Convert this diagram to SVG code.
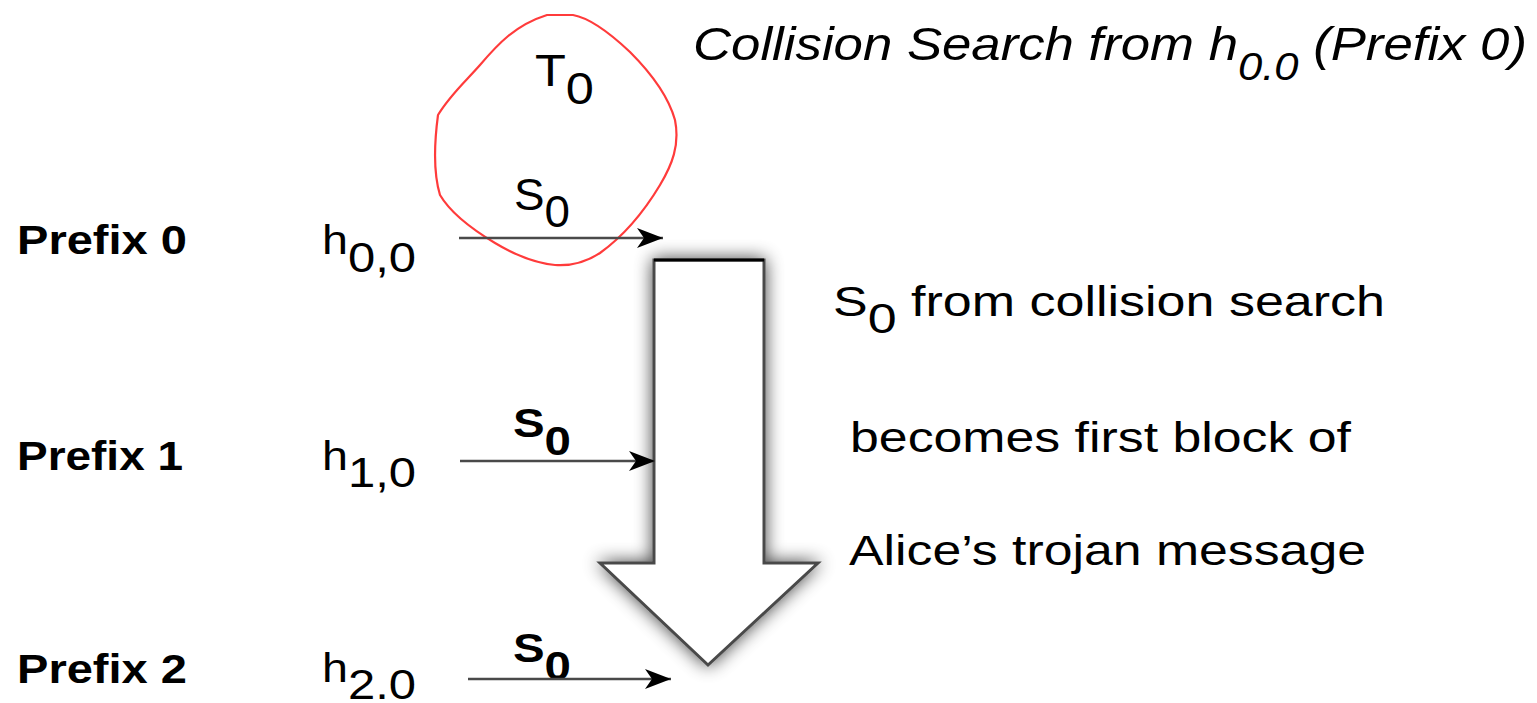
<svg xmlns="http://www.w3.org/2000/svg" width="1537" height="703" viewBox="0 0 1537 703">
<style>
text{font-family:"Liberation Sans",Arial,sans-serif;fill:#000}
.b{font-weight:bold}
.conn{stroke:#4a4a4a;stroke-width:2.5;fill:none}
</style>
<defs>
<marker id="ah" markerWidth="28" markerHeight="22" refX="26" refY="11" orient="auto" markerUnits="userSpaceOnUse">
<path d="M0,1 L26,11 L0,21 L7,11 Z" fill="#000"/>
</marker>
<filter id="sh" x="-30%" y="-10%" width="160%" height="130%">
<feGaussianBlur in="SourceAlpha" stdDeviation="9"/>
<feComponentTransfer><feFuncA type="linear" slope="0.75"/></feComponentTransfer>
<feMerge><feMergeNode/><feMergeNode in="SourceGraphic"/></feMerge>
</filter>
</defs>
<rect width="1537" height="703" fill="#fff"/>

<g id="title">
<text x="693" y="60" font-style="italic" font-size="46" textLength="834" lengthAdjust="spacingAndGlyphs">Collision Search from h<tspan font-size="38" dy="20">0.0</tspan><tspan dy="-20"> (Prefix 0)</tspan></text>
</g>

<g id="collision-circle">
<path d="M547,15 L573,15 C590,18 612,35 630,52 C648,70 668,95 675,120 C680,145 672,165 660,185 C645,210 625,235 600,253 C585,263 570,266 555,265 C535,263 515,255 495,243 C470,228 450,212 440,195 C434,175 434,145 438,115 C450,95 465,82 480,65 C497,45 515,25 547,15 Z" fill="none" stroke="#ff3b3b" stroke-width="2.2"/>
<text x="535" y="86" font-size="44" textLength="59" lengthAdjust="spacingAndGlyphs">T<tspan dy="18">0</tspan></text>
<text x="514" y="210" font-size="44" textLength="56" lengthAdjust="spacingAndGlyphs">S<tspan dy="17">0</tspan></text>
</g>

<g id="big-arrow">
<path d="M654,260 L764,260 L764,563 L818,563 L708,665 L600,563 L654,563 Z" fill="#fff" stroke="#4a4a4a" stroke-width="3" stroke-linejoin="miter" filter="url(#sh)"/>
<line x1="654" y1="260" x2="764" y2="260" stroke="#000" stroke-width="3"/>
</g>

<g id="prefix0">
<text class="b" x="17" y="254" font-size="40" textLength="170" lengthAdjust="spacingAndGlyphs">Prefix 0</text>
<text x="322" y="254" font-size="40" textLength="94" lengthAdjust="spacingAndGlyphs">h<tspan font-size="42" dy="18">0,0</tspan></text>
</g>

<g id="prefix1">
<text class="b" x="17" y="470" font-size="40" textLength="166" lengthAdjust="spacingAndGlyphs">Prefix 1</text>
<text x="322" y="470" font-size="40" textLength="94" lengthAdjust="spacingAndGlyphs">h<tspan font-size="42" dy="17">1,0</tspan></text>
<text class="b" x="513" y="437" font-size="40" textLength="58" lengthAdjust="spacingAndGlyphs">S<tspan dy="18">0</tspan></text>
</g>

<g id="prefix2">
<text class="b" x="17" y="683" font-size="40" textLength="170" lengthAdjust="spacingAndGlyphs">Prefix 2</text>
<text x="322" y="682" font-size="40" textLength="94" lengthAdjust="spacingAndGlyphs">h<tspan font-size="42" dy="17">2.0</tspan></text>
<text class="b" x="513" y="662" font-size="40" textLength="58" lengthAdjust="spacingAndGlyphs">S<tspan dy="18">0</tspan></text>
</g>

<g id="explanation">
<text x="833" y="316" font-size="43" textLength="552" lengthAdjust="spacingAndGlyphs">S<tspan dy="17">0</tspan><tspan dy="-17"> from collision search</tspan></text>
<text x="850" y="452" font-size="43" textLength="501" lengthAdjust="spacingAndGlyphs">becomes first block of</text>
<text x="849" y="565" font-size="43" textLength="517" lengthAdjust="spacingAndGlyphs">Alice’s trojan message</text>
</g>

<g id="connectors">
<line class="conn" x1="459" y1="238" x2="663" y2="238" marker-end="url(#ah)" stroke="#777"/>
<line class="conn" x1="460" y1="461" x2="655" y2="461" marker-end="url(#ah)"/>
<line class="conn" x1="468" y1="679" x2="671" y2="679" marker-end="url(#ah)"/>
</g>
</svg>
